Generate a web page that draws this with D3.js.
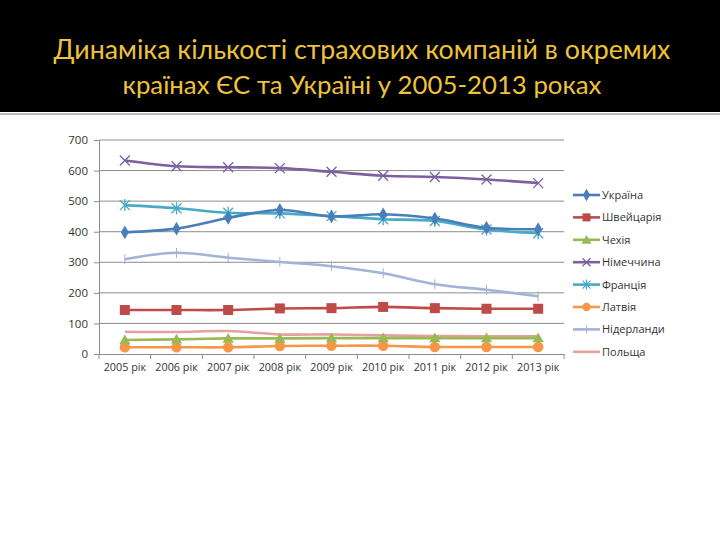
<!DOCTYPE html>
<html>
<head>
<meta charset="utf-8">
<script src="https://cdn.jsdelivr.net/npm/d3@7"></script>
<style>
  body { margin: 0; background: #fff; }
  svg { display: block; }
</style>
</head>
<body>
<script>
var canvasWidth = 720;
var canvasHeight = 540;

var years = ["2005 рік", "2006 рік", "2007 рік", "2008 рік", "2009 рік", "2010 рік", "2011 рік", "2012 рік", "2013 рік"];
var yTicks = [0, 100, 200, 300, 400, 500, 600, 700];

var ukraine     = [398, 410, 445, 471, 450, 457, 443, 413, 408];
var switzerland = [144, 144, 144, 149, 150, 154, 150, 148, 148];
var czech       = [46, 48, 51, 51, 52, 52, 52, 52, 52];
var germany     = [633, 614, 611, 608, 596, 583, 579, 571, 559];
var france      = [487, 477, 462, 460, 451, 441, 435, 407, 395];
var latvia      = [22, 22, 22, 26, 27, 27, 23, 23, 23];
var netherlands = [310, 331, 315, 301, 287, 264, 228, 210, 189];
var poland      = [73, 72, 75, 64, 64, 61, 59, 58, 58];

var seriesNames = ["Україна", "Швейцарія", "Чехія", "Німеччина", "Франція", "Латвія", "Нідерланди", "Польща"];
var seriesValues = [ukraine, switzerland, czech, germany, france, latvia, netherlands, poland];
var seriesColors = ["#4a7ebb", "#be4b48", "#98b954", "#7d60a0", "#46aac5", "#f79646", "#a2b3d8", "#e5a19d"];
var seriesMarkers = ["diamond", "square", "triangle", "x", "star", "circle", "plus", "none"];

var svg = d3.select("body").append("svg")
    .attr("width", canvasWidth)
    .attr("height", canvasHeight);

// header
svg.append("rect")
    .attr("x", 0).attr("y", 0)
    .attr("width", canvasWidth).attr("height", 112)
    .attr("fill", "#000");
svg.append("rect")
    .attr("x", 0).attr("y", 113)
    .attr("width", canvasWidth).attr("height", 2)
    .attr("fill", "#bdbdbd");

var titleLines = [
    { text: "Динаміка кількості страхових компаній в окремих", y: 59, w: 617 },
    { text: "країнах ЄС та Україні у 2005-2013 роках", y: 94, w: 479 }
];
titleLines.forEach(function(l) {
    var t = svg.append("text")
        .attr("x", 362)
        .attr("y", l.y)
        .attr("text-anchor", "middle")
        .attr("font-family", "Lato, 'Open Sans', sans-serif")
        .attr("font-size", "28px")
        .attr("fill", "#eec23a")
        .text(l.text);
    var len = t.node().getComputedTextLength();
    t.attr("font-size", (28 * l.w / len).toFixed(2) + "px");
});

// chart
var plot = { left: 99, top: 140, right: 564, bottom: 354 };

var xScale = d3.scaleBand().domain(years).range([plot.left, plot.right]);
var yScale = d3.scaleLinear().domain([0, 700]).range([plot.bottom, plot.top]);

var g = svg.append("g");

// gridlines
g.selectAll(".grid").data(yTicks.filter(d => d > 0))
    .enter().append("line")
    .attr("x1", plot.left).attr("x2", plot.right)
    .attr("y1", d => yScale(d)).attr("y2", d => yScale(d))
    .attr("stroke", "#8c8c8c")
    .attr("stroke-width", 1);

// y axis
var yAxis = g.append("g")
    .attr("transform", "translate(" + plot.left + ",0)")
    .call(d3.axisLeft(yScale).tickValues(yTicks).tickSize(5).tickPadding(6));
yAxis.select(".domain").attr("stroke", "#8c8c8c");
yAxis.selectAll(".tick line").attr("stroke", "#8c8c8c");
yAxis.selectAll("text")
    .attr("font-family", "'Open Sans', sans-serif")
    .attr("font-size", "11.5px")
    .attr("fill", "#333");

// x axis
var xAxis = g.append("g")
    .attr("transform", "translate(0," + plot.bottom + ")")
    .call(d3.axisBottom(xScale).tickSize(0).tickPadding(9));
xAxis.select(".domain").attr("stroke", "#8c8c8c");
xAxis.selectAll("text")
    .attr("font-family", "'Open Sans', sans-serif")
    .attr("font-size", "10.8px")
    .attr("fill", "#333");
// x tick marks between categories
xAxis.selectAll(".sep").data(d3.range(years.length + 1))
    .enter().append("line")
    .attr("x1", i => plot.left + i * xScale.step())
    .attr("x2", i => plot.left + i * xScale.step())
    .attr("y1", 0).attr("y2", 5)
    .attr("stroke", "#8c8c8c");

var xCenter = d => xScale(d) + xScale.bandwidth() / 2;

var line = d3.line()
    .x((d, i) => xCenter(years[i]))
    .y(d => yScale(d))
    .curve(d3.curveCatmullRom.alpha(0.5));

function drawMarker(sel, type, color, x, y, s) {
    s = s || 1;
    if (type === "diamond") {
        sel.append("path").attr("d", d3.symbol(d3.symbolDiamond, 55 * s)())
            .attr("transform", "translate(" + x + "," + y + ")")
            .attr("fill", color);
    } else if (type === "square") {
        sel.append("rect").attr("x", x - 5 * s).attr("y", y - 5 * s)
            .attr("width", 10 * s).attr("height", 10 * s).attr("fill", color);
    } else if (type === "triangle") {
        sel.append("path").attr("d", d3.symbol(d3.symbolTriangle, 55 * s)())
            .attr("transform", "translate(" + x + "," + (y + 1) + ")")
            .attr("fill", color);
    } else if (type === "circle") {
        sel.append("circle").attr("cx", x).attr("cy", y).attr("r", 5.2 * s).attr("fill", color);
    } else if (type === "x") {
        var r = 5 * s;
        sel.append("path")
            .attr("d", "M" + (x - r) + "," + (y - r) + "L" + (x + r) + "," + (y + r) +
                       "M" + (x - r) + "," + (y + r) + "L" + (x + r) + "," + (y - r))
            .attr("stroke", color).attr("stroke-width", 1.3).attr("fill", "none");
    } else if (type === "star") {
        var r2 = 5 * s;
        sel.append("path")
            .attr("d", "M" + (x - r2) + "," + (y - r2) + "L" + (x + r2) + "," + (y + r2) +
                       "M" + (x - r2) + "," + (y + r2) + "L" + (x + r2) + "," + (y - r2) +
                       "M" + x + "," + (y - r2 - 1) + "L" + x + "," + (y + r2 + 1))
            .attr("stroke", color).attr("stroke-width", 1.3).attr("fill", "none");
    } else if (type === "plus") {
        var r3 = 5 * s;
        sel.append("path")
            .attr("d", "M" + x + "," + (y - r3) + "L" + x + "," + (y + r3))
            .attr("stroke", color).attr("stroke-width", 1).attr("fill", "none");
    }
}

// draw series (last first so Ukraine stays on top)
for (var k = seriesValues.length - 1; k >= 0; k--) {
    var sg = g.append("g");
    sg.append("path")
        .datum(seriesValues[k])
        .attr("d", line)
        .attr("fill", "none")
        .attr("stroke", seriesColors[k])
        .attr("stroke-width", 2.6);
    for (var i = 0; i < years.length; i++) {
        drawMarker(sg, seriesMarkers[k], seriesColors[k], xCenter(years[i]), yScale(seriesValues[k][i]));
    }
}

// legend
var legend = svg.append("g");
for (var j = 0; j < seriesNames.length; j++) {
    var ly = 195 + j * 22.4;
    legend.append("line")
        .attr("x1", 573).attr("x2", 600)
        .attr("y1", ly).attr("y2", ly)
        .attr("stroke", seriesColors[j])
        .attr("stroke-width", 2.6);
    drawMarker(legend, seriesMarkers[j], seriesColors[j], 586.5, ly, 0.8);
    legend.append("text")
        .attr("x", 602)
        .attr("y", ly + 4)
        .attr("font-family", "'Open Sans', sans-serif")
        .attr("font-size", "11px")
        .attr("fill", "#333")
        .text(seriesNames[j]);
}
</script>
</body>
</html>
